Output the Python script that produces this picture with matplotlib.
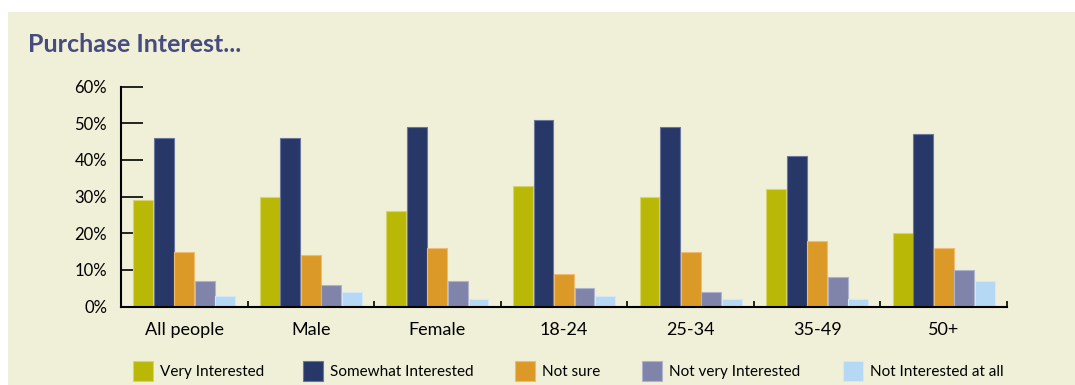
import matplotlib.pyplot as plt
from matplotlib.patches import Rectangle
import numpy as np

plt.rcParams['font.family'] = ['Lato', 'DejaVu Sans']

categories = ['All people', 'Male', 'Female', '18-24', '25-34', '35-49', '50+']
series_names = ['Very Interested', 'Somewhat Interested', 'Not sure',
                'Not very Interested', 'Not Interested at all']
very = [29, 30, 26, 33, 30, 32, 20]
somewhat = [46, 46, 49, 51, 49, 41, 47]
not_sure = [15, 14, 16, 9, 15, 18, 16]
not_very = [7, 6, 7, 5, 4, 8, 10]
not_at_all = [3, 4, 2, 3, 2, 2, 7]
y_ticks = [0, 10, 20, 30, 40, 50, 60]

colors = ['#bab806', '#263768', '#db9a27', '#8084aa', '#b5d8f5']
edges = ['#d6d46a', '#6a76a0', '#eebb70', '#b0b3cc', '#d4e8f8']
panel = '#f0f0d8'

fig = plt.figure(figsize=(10.75, 3.85), dpi=100)
fig.patch.set_facecolor('white')
fig.patches.append(Rectangle((8 / 1075, 0), 1, 1 - 12 / 385,
                             transform=fig.transFigure, facecolor=panel,
                             edgecolor='none', zorder=-10))

fig.text(28 / 1075, 1 - 44 / 385, 'Purchase Interest...', fontsize=18,
         fontweight='bold', color='#474c80', va='center', ha='left')

ax = fig.add_axes([121 / 1075, 1 - 306.5 / 385, (1007 - 121) / 1075, (306.5 - 86.5) / 385])
ax.set_facecolor('none')
ax.set_axisbelow(True)

x = np.arange(len(categories))
step = 0.162
width = 0.157
data = [very, somewhat, not_sure, not_very, not_at_all]
for i, vals in enumerate(data):
    ax.bar(x + (i - 2) * step, vals, width, color=colors[i],
           edgecolor=edges[i], linewidth=0.8, zorder=2)

ax.set_xlim(-0.5, len(categories) - 0.5)
ax.set_ylim(0, 60)
ax.set_yticks(y_ticks)
ax.set_yticklabels([f'{v}%' for v in y_ticks], fontsize=12)
ax.tick_params(axis='y', direction='in', length=16, width=1.2, pad=10, color='black')
ax.set_xticks(x)
ax.set_xticklabels(categories, fontsize=13)
ax.tick_params(axis='x', length=0, pad=11)
ax.set_xticks(np.arange(len(categories) + 1) - 0.5, minor=True)
ax.tick_params(axis='x', which='minor', direction='in', length=4, width=1.2)

for s in ['top', 'right']:
    ax.spines[s].set_visible(False)
for s in ['left', 'bottom']:
    ax.spines[s].set_linewidth(1.5)

# legend
leg_x = [133, 303, 515, 642, 843]
for i, name in enumerate(series_names):
    fig.patches.append(Rectangle((leg_x[i] / 1075, 1 - 381 / 385), 20 / 1075, 20 / 385,
                                 transform=fig.transFigure, facecolor=colors[i],
                                 edgecolor=edges[i], linewidth=0.8))
    fig.text((leg_x[i] + 27) / 1075, 1 - 372 / 385, name, fontsize=11,
             va='center', ha='left')

fig.savefig('out.png', dpi=100, facecolor='white')
